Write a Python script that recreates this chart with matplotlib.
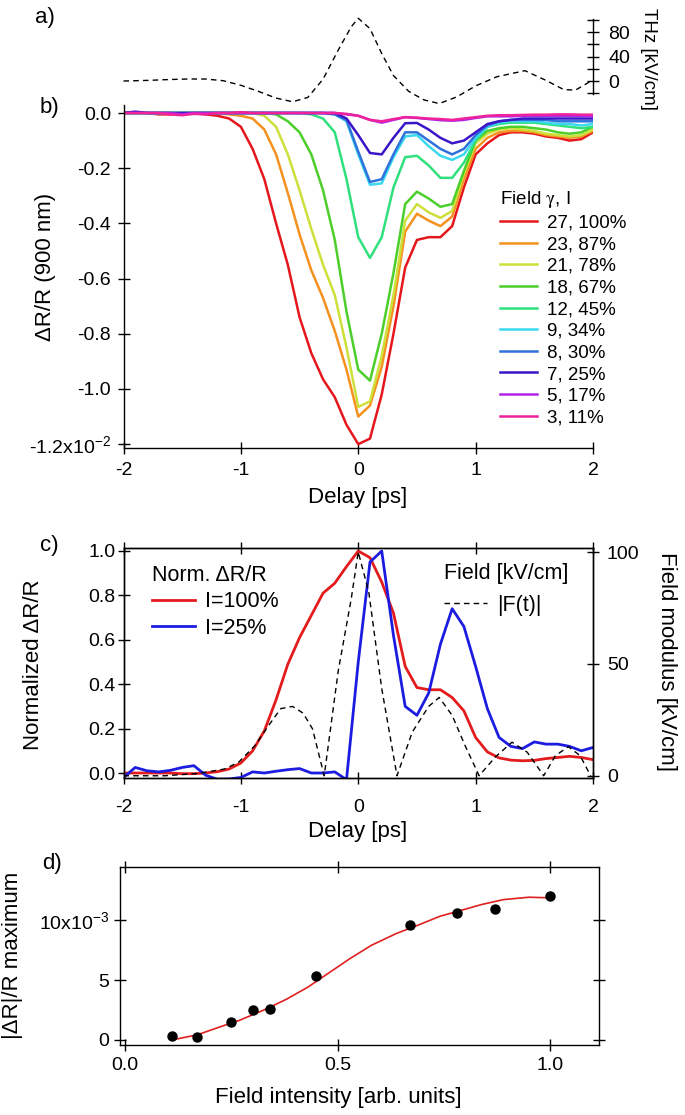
import numpy as np
import matplotlib
matplotlib.use("Agg")
import matplotlib.pyplot as plt

plt.rcParams['font.family'] = ['Liberation Sans', 'DejaVu Sans']
plt.rcParams['axes.unicode_minus'] = False
plt.rcParams['mathtext.fontset'] = 'stix'

# --- datos ---
delay = np.round(np.arange(-2.0, 2.05, 0.1), 1)   # ps, paso 0.1

# a) campo THz [kV/cm]
field_t = [-2.0, -1.8, -1.6, -1.45, -1.3, -1.15, -1.0, -0.85, -0.7, -0.56, -0.43, -0.3,
           -0.17, -0.06, 0.0, 0.1, 0.2, 0.3, 0.43, 0.56, 0.69, 0.84, 1.0, 1.18, 1.42,
           1.6, 1.75, 1.85, 1.93, 2.0]
field_v = [0, 1, 2.5, 3.3, 3.3, 0.5, -7, -17, -28, -34, -27, 3,
           51, 89, 103, 86, 45, 9, -17, -31, -37, -26, -8, 7, 17,
           1, -14, -15, -6, 2]

# b) dR/R (x1e-2) para cada campo
labels_b = ['27, 100%', '23, 87%', '21, 78%', '18, 67%', '12, 45%',
            '9, 34%', '8, 30%', '7, 25%', '5, 17%', '3, 11%']
colors_b = ['#e5171c', '#f4911f', '#cde03a', '#4ccf2b', '#2fe07c',
            '#3ad9ef', '#2f72dc', '#3a16c8', '#b224e6', '#ef229b']
dr27 = [0, 0, 0, -0.005, -0.005, 0, 0, -0.005, -0.01, -0.02,
        -0.05, -0.13, -0.24, -0.40, -0.55, -0.74, -0.87, -0.965, -1.03, -1.13,
        -1.20, -1.18, -1.02, -0.80, -0.56, -0.46, -0.45, -0.45, -0.41, -0.27,
        -0.15, -0.11, -0.08, -0.07, -0.07, -0.075, -0.085, -0.09, -0.10, -0.095, -0.07]
dr23 = [0, 0, 0, 0, 0, -0.005, 0, 0, 0, -0.005,
        -0.01, -0.02, -0.06, -0.15, -0.29, -0.44, -0.57, -0.67, -0.79, -0.93,
        -1.10, -1.06, -0.92, -0.70, -0.43, -0.365, -0.39, -0.41, -0.375, -0.24,
        -0.13, -0.09, -0.07, -0.065, -0.065, -0.07, -0.08, -0.085, -0.09, -0.085, -0.065]
dr21 = [0, 0, 0, 0, 0, 0, 0, 0, 0, 0,
        0, 0, -0.01, -0.05, -0.15, -0.28, -0.42, -0.55, -0.66, -0.85,
        -1.065, -1.045, -0.88, -0.66, -0.39, -0.33, -0.36, -0.38, -0.355, -0.22,
        -0.11, -0.075, -0.06, -0.055, -0.06, -0.065, -0.075, -0.08, -0.085, -0.08, -0.06]
dr18 = [0, 0, 0, 0, 0, 0, 0, 0, 0, 0,
        0, 0, 0, -0.005, -0.03, -0.07, -0.15, -0.28, -0.46, -0.72,
        -0.93, -0.97, -0.80, -0.58, -0.33, -0.285, -0.31, -0.34, -0.33, -0.21,
        -0.10, -0.065, -0.055, -0.05, -0.05, -0.055, -0.06, -0.07, -0.075, -0.07, -0.05]
dr12 = [0, 0, 0, 0, 0, 0, 0, 0, 0, 0,
        0, 0, 0, 0, 0, 0, -0.005, -0.02, -0.07, -0.24,
        -0.45, -0.525, -0.45, -0.27, -0.16, -0.155, -0.19, -0.235, -0.235, -0.18,
        -0.10, -0.05, -0.04, -0.035, -0.035, -0.035, -0.04, -0.045, -0.05, -0.055, -0.05]
dr9 = [0, 0, 0, 0, 0, 0, 0, 0, 0, 0,
       0, 0, 0, 0, 0, 0, 0, 0, -0.005, -0.03,
       -0.15, -0.26, -0.255, -0.16, -0.085, -0.08, -0.12, -0.155, -0.17, -0.15,
       -0.09, -0.05, -0.035, -0.03, -0.03, -0.03, -0.035, -0.04, -0.04, -0.045, -0.04]
dr8 = [0, 0, 0, 0, 0, 0, 0, 0, 0, 0,
       0, 0, 0, 0, 0, 0, 0, 0, -0.005, -0.025,
       -0.14, -0.25, -0.24, -0.15, -0.07, -0.07, -0.10, -0.13, -0.15, -0.13,
       -0.08, -0.045, -0.03, -0.025, -0.025, -0.025, -0.025, -0.03, -0.03, -0.03, -0.03]
dr7 = [0, 0.005, 0, 0, 0, 0, 0, 0, 0, 0,
       0, 0, 0, 0, 0, 0, 0, 0, 0, -0.02,
       -0.08, -0.145, -0.15, -0.09, -0.037, -0.036, -0.06, -0.09, -0.11, -0.10,
       -0.07, -0.04, -0.03, -0.025, -0.02, -0.02, -0.02, -0.02, -0.02, -0.02, -0.02]
dr5 = [0, 0, 0, 0, 0, -0.005, 0, 0, 0, 0,
       0, 0, 0, 0, 0, 0, 0, 0, 0, -0.005,
       -0.01, -0.025, -0.035, -0.025, -0.015, -0.018, -0.022, -0.026, -0.028, -0.025,
       -0.018, -0.012, -0.012, -0.012, -0.01, -0.01, -0.01, -0.01, -0.01, -0.01, -0.012]
dr3 = [0, 0, 0, 0, -0.005, -0.008, -0.003, -0.005, 0, 0,
       0.003, 0, 0, 0, 0, 0, 0, 0, 0, -0.003,
       -0.01, -0.025, -0.03, -0.022, -0.015, -0.017, -0.02, -0.022, -0.025, -0.02,
       -0.015, -0.01, -0.008, -0.008, -0.007, -0.006, -0.006, -0.005, -0.005, -0.006, -0.006]
series_b = [dr27, dr23, dr21, dr18, dr12, dr9, dr8, dr7, dr5, dr3]

# c) normalizado
norm100 = [0, 0, 0, 0, 0, -0.003, -0.003, 0, 0.006, 0.018,
           0.045, 0.10, 0.19, 0.33, 0.49, 0.61, 0.71, 0.81, 0.855, 0.93,
           1.0, 0.97, 0.86, 0.72, 0.48, 0.385, 0.375, 0.375, 0.34, 0.28,
           0.16, 0.095, 0.068, 0.058, 0.055, 0.057, 0.065, 0.07, 0.075, 0.07, 0.06]
norm25 = [-0.02, 0.025, 0.01, 0.005, 0.012, 0.025, 0.033, -0.01, -0.028, -0.027,
          -0.02, 0.005, 0.0, 0.008, 0.015, 0.02, 0.0, 0.0, 0.005, -0.03,
          0.50, 0.95, 1.0, 0.62, 0.30, 0.26, 0.36, 0.58, 0.74, 0.66,
          0.48, 0.29, 0.16, 0.12, 0.11, 0.14, 0.13, 0.13, 0.12, 0.10, 0.115]
absF_t = [-2.0, -1.65, -1.37, -1.14, -1.02, -0.88, -0.77, -0.66, -0.56, -0.47, -0.39, -0.29,
          -0.17, -0.06, 0.0, 0.09, 0.2, 0.33, 0.46, 0.6, 0.69, 0.8, 0.91, 1.03,
          1.17, 1.31, 1.44, 1.58, 1.68, 1.79, 1.89, 1.98]
absF_v = [0, 0, 1, 3, 6, 13.5, 22, 30, 31, 28, 21, 0,
          47, 79, 100, 82, 39, 0, 19.5, 31, 35, 27, 13.5, 0,
          8.5, 15, 10.5, 0, 9, 13, 9, 0]

# d) maximo |dR|/R (x1e-3) vs intensidad
intens = [0.11, 0.17, 0.25, 0.30, 0.34, 0.45, 0.67, 0.78, 0.87, 1.00]
max_dr = [0.3, 0.25, 1.5, 2.5, 2.6, 5.3, 9.6, 10.6, 10.9, 12.0]
fit_x = [0.11, 0.17, 0.22, 0.27, 0.33, 0.38, 0.43, 0.48, 0.53, 0.58, 0.64, 0.69,
         0.74, 0.79, 0.84, 0.89, 0.95, 1.0]
fit_y = [0.0, 0.43, 1.05, 1.65, 2.55, 3.4, 4.4, 5.6, 6.8, 7.9, 8.9, 9.58,
         10.3, 10.8, 11.3, 11.7, 11.9, 11.85]

# --- figura ---
W, H = 685, 1115
fig = plt.figure(figsize=(W / 100, H / 100), dpi=100)

def caja(x0, y0, x1, y1):
    return [x0 / W, 1 - y1 / H, (x1 - x0) / W, (y1 - y0) / H]

TK = 14   # ticks
LB = 16   # etiquetas
tick_kw = dict(direction='inout', length=8, width=1, labelsize=TK)

# a)
ax_a = fig.add_axes(caja(123.5, 19, 593, 94))
ax_a.plot(field_t, field_v, color='k', lw=1, ls=(0, (4, 3)), clip_on=False)
ax_a.set_xlim(-2, 2)
ax_a.set_ylim(-21.3, 101.8)
for s in ['left', 'top', 'bottom']:
    ax_a.spines[s].set_visible(False)
ax_a.patch.set_visible(False)
ax_a.set_xticks([])
ax_a.yaxis.tick_right()
ax_a.set_yticks([-20, 0, 20, 40, 60, 80, 100])
ax_a.set_yticklabels(['', '0', '', '40', '', '80', ''])
ax_a.tick_params(axis='y', pad=7, **tick_kw)

# b)
ax_b = fig.add_axes(caja(123.5, 105, 593, 448))
for vals, col, lab in zip(series_b, colors_b, labels_b):
    ax_b.plot(delay, vals, color=col, lw=1.8, label=lab)
ax_b.set_xlim(-2, 2)
ax_b.set_ylim(-1.214, 0.029)
ax_b.spines['top'].set_visible(False)
ax_b.spines['right'].set_visible(False)
ax_b.set_xticks([-2, -1, 0, 1, 2])
ax_b.set_yticks([0, -0.2, -0.4, -0.6, -0.8, -1.0, -1.2])
ax_b.set_yticklabels(['0.0', '-0.2', '-0.4', '-0.6', '-0.8', '-1.0',
                      r'-1.2x10$\mathregular{^{-2}}$'])
ax_b.tick_params(axis='x', pad=6, **tick_kw)
ax_b.tick_params(axis='y', pad=5, **tick_kw)
ax_b.legend(title=r'Field $\mathrm{\gamma}$, I', loc='upper left',
            bbox_to_anchor=(500 / W, 1 - 189 / H), bbox_transform=fig.transFigure,
            frameon=False, fontsize=13.5, title_fontsize=13.5, handlelength=1.95,
            handletextpad=0.55, labelspacing=0.24, borderpad=0, borderaxespad=0,
            alignment='left')

# c)
ax_c = fig.add_axes(caja(123.5, 548, 593, 778))
l100, = ax_c.plot(delay, norm100, color='#e31b1d', lw=2)
l25, = ax_c.plot(delay, norm25, color='#1c1ce0', lw=2)
ax_c.set_xlim(-2, 2)
ax_c.set_ylim(-0.0225, 1.0135)
ax_c.set_xticks([-2, -1, 0, 1, 2])
ax_c.set_yticks([0, 0.2, 0.4, 0.6, 0.8, 1.0])
ax_c.set_yticklabels(['0.0', '0.2', '0.4', '0.6', '0.8', '1.0'])
tw = ax_c.twinx()
ldash, = tw.plot(absF_t, absF_v, color='k', lw=1, ls=(0, (4, 3)))
tw.set_ylim(-1, 101.8)
tw.set_yticks([0, 50, 100])
tw.tick_params(axis='y', pad=6, **tick_kw)
ax_c.tick_params(axis='x', top=True, pad=11, **tick_kw)
ax_c.tick_params(axis='y', pad=2, **tick_kw)
ax_c.legend([l100, l25], ['I=100%', 'I=25%'], title='Norm. ΔR/R',
            loc='upper left', bbox_to_anchor=(152 / W, 1 - 565 / H),
            bbox_transform=fig.transFigure, frameon=False, fontsize=15.5,
            title_fontsize=15.5, handlelength=2.0, handletextpad=0.45,
            labelspacing=0.25, borderpad=0, borderaxespad=0, alignment='left')
tw.legend([ldash], ['|F(t)|'], title='Field [kV/cm]', loc='upper left',
          bbox_to_anchor=(444 / W, 1 - 563 / H), bbox_transform=fig.transFigure,
          frameon=False, fontsize=15.5, title_fontsize=15.5, handlelength=2.0,
          handletextpad=0.45, borderpad=0, borderaxespad=0, alignment='left')

# d)
ax_d = fig.add_axes(caja(120, 867, 599, 1045))
ax_d.plot(fit_x, fit_y, color='#e02020', lw=1.2)
ax_d.plot(intens, max_dr, 'o', color='k', ms=6.5)
ax_d.set_xlim(-0.0118, 1.1153)
ax_d.set_ylim(-0.417, 14.42)
ax_d.set_xticks([0, 0.5, 1.0])
ax_d.set_xticklabels(['0.0', '0.5', '1.0'])
ax_d.set_yticks([0, 5, 10])
ax_d.set_yticklabels(['0', '5', r'10x10$\mathregular{^{-3}}$'])
ax_d.tick_params(axis='both', top=True, right=True, **tick_kw)
ax_d.tick_params(axis='x', pad=5)
ax_d.tick_params(axis='y', pad=4)

for ax in [ax_a, ax_b, ax_c, tw, ax_d]:
    for s in ax.spines.values():
        s.set_linewidth(1)

# textos
fig.text(45 / W, 1 - 17 / H, 'a)', fontsize=LB, ha='center', va='center')
fig.text(49 / W, 1 - 108 / H, 'b)', fontsize=LB, ha='center', va='center')
fig.text(49 / W, 1 - 545 / H, 'c)', fontsize=LB, ha='center', va='center')
fig.text(52 / W, 1 - 864 / H, 'd)', fontsize=LB, ha='center', va='center')
fig.text(648 / W, 1 - 59 / H, 'THz [kV/cm]', fontsize=13.5, rotation=270,
         ha='center', va='center')
fig.text(46 / W, 1 - 267 / H, 'ΔR/R (900 nm)', fontsize=LB, rotation=90,
         ha='center', va='center')
fig.text(358 / W, 1 - 498 / H, 'Delay [ps]', fontsize=LB, ha='center', va='center')
fig.text(34 / W, 1 - 665 / H, 'Normalized ΔR/R', fontsize=LB, rotation=90,
         ha='center', va='center')
fig.text(667 / W, 1 - 662 / H, 'Field modulus [kV/cm]', fontsize=LB, rotation=270,
         ha='center', va='center')
fig.text(358 / W, 1 - 831 / H, 'Delay [ps]', fontsize=LB, ha='center', va='center')
fig.text(13 / W, 1 - 955 / H, '|ΔR|/R maximum', fontsize=LB, rotation=90,
         ha='center', va='center')
fig.text(338 / W, 1 - 1098 / H, 'Field intensity [arb. units]', fontsize=LB,
         ha='center', va='center')

fig.savefig('out.png', dpi=100)
